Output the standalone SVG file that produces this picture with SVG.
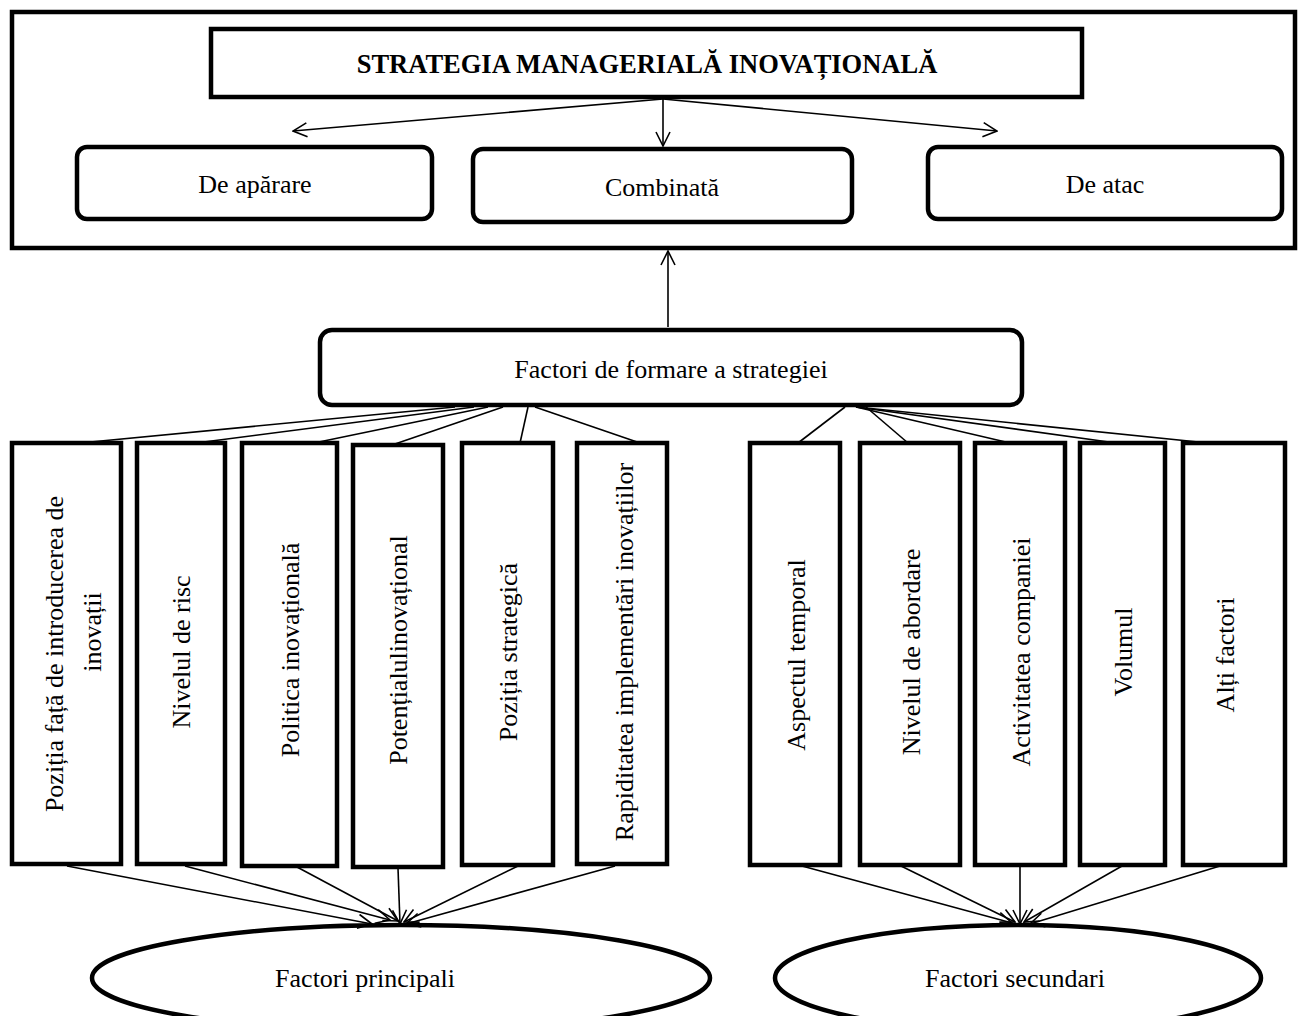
<svg xmlns="http://www.w3.org/2000/svg" width="1298" height="1016" viewBox="0 0 1298 1016">
<defs>
<style>
.box{fill:#fff;stroke:#000;stroke-width:4.5}
.t{font-family:"Liberation Serif","Times New Roman",serif;font-size:26px;fill:#000;text-anchor:middle;dominant-baseline:central}
.b{font-weight:bold;font-size:26.5px}
.c{stroke:#000;stroke-width:1.6;fill:none}
.a{stroke:#000;stroke-width:1.6;fill:none;marker-end:url(#arr)}
</style>
<marker id="arr" viewBox="0 0 16 16" refX="15" refY="8" markerWidth="16" markerHeight="16" markerUnits="userSpaceOnUse" orient="auto">
<path d="M1,1 L15,8 L1,15" fill="none" stroke="#000" stroke-width="1.6"/>
</marker>
</defs>
<rect width="1298" height="1016" fill="#fff"/>

<g id="frame"><rect class="box" x="12" y="12" width="1283" height="236"/></g>

<g id="title"><rect class="box" x="211" y="29" width="871" height="68"/>
<text class="t b" x="647" y="64">STRATEGIA MANAGERIALĂ INOVAȚIONALĂ</text></g>

<g id="aparare"><rect class="box" x="77" y="147" width="355" height="72" rx="10"/>
<text class="t" x="255" y="184">De apărare</text></g>
<g id="combinata"><rect class="box" x="473" y="149" width="379" height="73" rx="10"/>
<text class="t" x="662" y="187">Combinată</text></g>
<g id="atac"><rect class="box" x="928" y="147" width="354" height="72" rx="10"/>
<text class="t" x="1105" y="184">De atac</text></g>

<g id="factori"><rect class="box" x="320" y="330" width="702" height="75" rx="12"/>
<text class="t" x="671" y="369">Factori de formare a strategiei</text></g>

<g id="f1"><rect class="box" x="12" y="443" width="109" height="421"/>
<text class="t" transform="translate(54,654) rotate(-90)">Poziția față de introducerea de</text>
<text class="t" transform="translate(92,632) rotate(-90)">inovații</text></g>
<g id="f2"><rect class="box" x="137" y="443" width="88" height="421"/>
<text class="t" transform="translate(181,652) rotate(-90)">Nivelul de risc</text></g>
<g id="f3"><rect class="box" x="242" y="443" width="95" height="423"/>
<text class="t" transform="translate(290,650) rotate(-90)">Politica inovațională</text></g>
<g id="f4"><rect class="box" x="353" y="445" width="90" height="422"/>
<text class="t" transform="translate(398,650) rotate(-90)">Potențialulinovațional</text></g>
<g id="f5"><rect class="box" x="462" y="443" width="91" height="422"/>
<text class="t" transform="translate(508,652) rotate(-90)">Poziția strategică</text></g>
<g id="f6"><rect class="box" x="577" y="443" width="90" height="421"/>
<text class="t" transform="translate(624,652) rotate(-90)">Rapiditatea implementări inovațiilor</text></g>

<g id="f7"><rect class="box" x="750" y="443" width="90" height="422"/>
<text class="t" transform="translate(796,655) rotate(-90)">Aspectul temporal</text></g>
<g id="f8"><rect class="box" x="860" y="443" width="100" height="422"/>
<text class="t" transform="translate(911,652) rotate(-90)">Nivelul de abordare</text></g>
<g id="f9"><rect class="box" x="975" y="443" width="90" height="422"/>
<text class="t" transform="translate(1021,652) rotate(-90)">Activitatea companiei</text></g>
<g id="f10"><rect class="box" x="1080" y="443" width="85" height="422"/>
<text class="t" transform="translate(1123,652) rotate(-90)">Volumul</text></g>
<g id="f11"><rect class="box" x="1183" y="443" width="102" height="422"/>
<text class="t" transform="translate(1225,655) rotate(-90)">Alți factori</text></g>

<g id="principali"><ellipse class="box" cx="401" cy="978" rx="309" ry="53"/>
<text class="t" x="365" y="978">Factori principali</text></g>
<g id="secundari"><ellipse class="box" cx="1018" cy="978" rx="243" ry="53"/>
<text class="t" x="1015" y="978">Factori secundari</text></g>

<g id="connectors">
<line class="a" x1="663" y1="99" x2="293" y2="131"/>
<line class="a" x1="663" y1="99" x2="663" y2="146"/>
<line class="a" x1="663" y1="99" x2="997" y2="131"/>
<line class="a" x1="668" y1="327" x2="668" y2="251"/>

<line class="c" x1="455" y1="407" x2="80" y2="443"/>
<line class="c" x1="474" y1="407" x2="196" y2="443"/>
<line class="c" x1="488" y1="407" x2="314" y2="443"/>
<line class="c" x1="503" y1="407" x2="392" y2="445"/>
<line class="c" x1="528" y1="407" x2="520" y2="443"/>
<line class="c" x1="535" y1="407" x2="640" y2="443"/>

<line class="c" x1="845" y1="407" x2="798" y2="443"/>
<line class="c" x1="866" y1="407" x2="908" y2="443"/>
<line class="c" x1="856" y1="407" x2="1010" y2="443"/>
<line class="c" x1="856" y1="407" x2="1116" y2="443"/>
<line class="c" x1="856" y1="407" x2="1208" y2="443"/>

<line class="a" x1="67" y1="866" x2="372" y2="924"/>
<line class="a" x1="185" y1="866" x2="390" y2="920"/>
<line class="a" x1="297" y1="867" x2="398" y2="921"/>
<line class="a" x1="398" y1="868" x2="400" y2="924"/>
<line class="a" x1="518" y1="866" x2="404" y2="922"/>
<line class="a" x1="615" y1="866" x2="406" y2="924"/>

<line class="a" x1="802" y1="866" x2="1012" y2="923"/>
<line class="a" x1="901" y1="866" x2="1015" y2="922"/>
<line class="a" x1="1020" y1="866" x2="1020" y2="924"/>
<line class="a" x1="1122" y1="866" x2="1024" y2="922"/>
<line class="a" x1="1220" y1="866" x2="1030" y2="924"/>
</g>
</svg>
